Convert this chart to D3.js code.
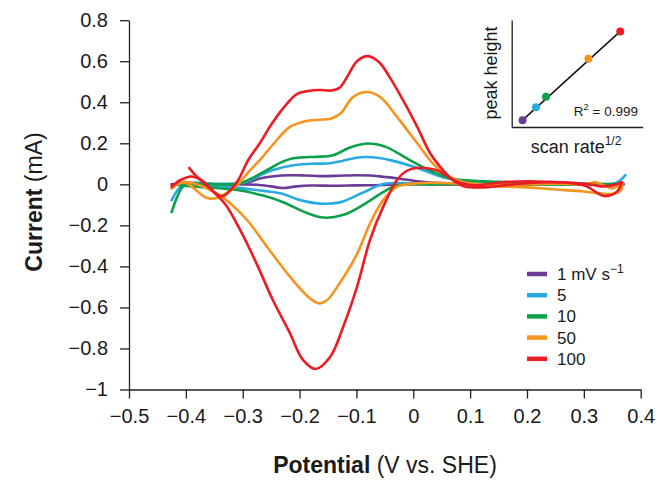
<!DOCTYPE html>
<html>
<head>
<meta charset="utf-8">
<script src="https://cdn.jsdelivr.net/npm/d3@7"></script>
<style>
  html, body { margin: 0; padding: 0; background: #fff; }
  svg { display: block; font-family: "Liberation Sans", Arial, Helvetica, sans-serif; }
</style>
</head>
<body>
<svg id="chart" width="663" height="480"></svg>
<script>
// ---------- DATA ----------
const xTicks = [-0.5, -0.4, -0.3, -0.2, -0.1, 0, 0.1, 0.2, 0.3, 0.4];
const xTickLabels = ["−0.5", "−0.4", "−0.3", "−0.2", "−0.1", "0", "0.1", "0.2", "0.3", "0.4"];
const yTicks = [-1, -0.8, -0.6, -0.4, -0.2, 0, 0.2, 0.4, 0.6, 0.8];
const yTickLabels = ["−1", "−0.8", "−0.6", "−0.4", "−0.2", "0", "0.2", "0.4", "0.6", "0.8"];

const scanRates = ["1", "5", "10", "50", "100"];
const seriesColors = ["#6a3c97", "#29aae1", "#0ba14b", "#f7941e", "#ec1c24"];

// [potential V, current mA] — anodic (forward) and cathodic (reverse) branches
const anodic1 = [[-0.425,0.0],[-0.35,0.0],[-0.3,0.004],[-0.287,0.013],[-0.27,0.028],[-0.245,0.039],[-0.217,0.044],[-0.19,0.043],[-0.158,0.04],[-0.13,0.042],[-0.099,0.044],[-0.07,0.042],[-0.053,0.037],[-0.03,0.03],[0.007,0.015],[0.035,0.008],[0.1,0.002],[0.2,0.0],[0.3,0.0],[0.37,0.0]];
const cathodic1 = [[0.37,0.0],[0.2,0.0],[0.05,0.0],[-0.03,0.0],[-0.053,-0.003],[-0.1,-0.005],[-0.141,-0.007],[-0.18,-0.006],[-0.205,-0.01],[-0.229,-0.018],[-0.25,-0.01],[-0.275,-0.002],[-0.3,0.0],[-0.425,0.0]];

const anodic5 = [[-0.425,-0.077],[-0.415,-0.03],[-0.405,0.0],[-0.39,0.008],[-0.35,0.003],[-0.305,0.005],[-0.287,0.02],[-0.265,0.05],[-0.247,0.07],[-0.211,0.093],[-0.18,0.1],[-0.146,0.103],[-0.125,0.114],[-0.1,0.13],[-0.081,0.133],[-0.06,0.128],[-0.041,0.118],[0.007,0.08],[0.052,0.035],[0.1,0.01],[0.2,0.005],[0.3,0.003],[0.355,0.005],[0.365,0.022],[0.373,0.045]];
const cathodic5 = [[0.362,0.0],[0.3,0.0],[0.2,0.0],[0.1,0.003],[0.0,0.005],[-0.053,0.002],[-0.088,-0.04],[-0.129,-0.088],[-0.164,-0.094],[-0.199,-0.077],[-0.229,-0.047],[-0.264,-0.032],[-0.317,-0.015],[-0.36,-0.005],[-0.405,0.0]];

const anodic10 = [[-0.425,-0.135],[-0.415,-0.06],[-0.405,-0.01],[-0.39,0.003],[-0.35,0.0],[-0.32,0.0],[-0.305,0.005],[-0.28,0.035],[-0.257,0.07],[-0.23,0.11],[-0.211,0.127],[-0.19,0.132],[-0.17,0.134],[-0.141,0.142],[-0.111,0.18],[-0.085,0.198],[-0.065,0.195],[-0.046,0.18],[-0.006,0.118],[0.035,0.06],[0.065,0.03],[0.1,0.018],[0.15,0.012],[0.25,0.005],[0.3,0.003],[0.368,0.0]];
const cathodic10 = [[0.368,0.0],[0.3,0.0],[0.2,0.0],[0.1,0.002],[0.03,0.0],[-0.029,-0.005],[-0.053,-0.038],[-0.088,-0.1],[-0.124,-0.15],[-0.158,-0.162],[-0.187,-0.14],[-0.229,-0.087],[-0.264,-0.055],[-0.31,-0.028],[-0.375,-0.013],[-0.41,-0.005]];

const anodic50 = [[-0.425,-0.02],[-0.405,0.01],[-0.39,-0.01],[-0.375,-0.045],[-0.362,-0.068],[-0.345,-0.065],[-0.33,-0.045],[-0.31,-0.005],[-0.29,0.06],[-0.27,0.118],[-0.245,0.2],[-0.217,0.28],[-0.19,0.308],[-0.165,0.315],[-0.145,0.32],[-0.128,0.345],[-0.106,0.425],[-0.081,0.45],[-0.058,0.425],[-0.029,0.33],[0.007,0.2],[0.035,0.1],[0.065,0.035],[0.09,0.01],[0.12,0.0],[0.2,0.0],[0.26,0.003],[0.3,0.0],[0.32,0.01],[0.335,-0.005],[0.35,-0.02],[0.362,-0.005],[0.368,0.005]];
const cathodic50 = [[0.368,0.005],[0.365,-0.03],[0.355,-0.045],[0.33,-0.045],[0.3,-0.035],[0.25,-0.025],[0.2,-0.015],[0.15,-0.01],[0.1,-0.005],[0.065,0.005],[0.007,0.005],[-0.029,-0.012],[-0.053,-0.077],[-0.076,-0.19],[-0.099,-0.34],[-0.129,-0.48],[-0.152,-0.565],[-0.165,-0.58],[-0.182,-0.555],[-0.217,-0.45],[-0.257,-0.305],[-0.292,-0.175],[-0.322,-0.092],[-0.345,-0.045],[-0.363,-0.02],[-0.387,0.005],[-0.405,0.01],[-0.42,-0.005]];

const anodic100 = [[-0.425,-0.012],[-0.41,0.02],[-0.39,0.038],[-0.375,0.025],[-0.36,-0.01],[-0.345,-0.05],[-0.335,-0.058],[-0.322,-0.03],[-0.308,0.02],[-0.29,0.12],[-0.27,0.2],[-0.25,0.29],[-0.229,0.37],[-0.205,0.44],[-0.185,0.455],[-0.165,0.46],[-0.145,0.457],[-0.13,0.47],[-0.115,0.53],[-0.099,0.6],[-0.08,0.625],[-0.06,0.595],[-0.041,0.52],[-0.018,0.41],[0.007,0.28],[0.03,0.15],[0.052,0.07],[0.07,0.02],[0.09,-0.01],[0.12,-0.015],[0.16,-0.005],[0.2,0.005],[0.25,0.01],[0.29,0.005],[0.31,0.0],[0.33,-0.01],[0.35,-0.005],[0.367,0.01]];
const cathodic100 = [[0.367,0.01],[0.36,-0.03],[0.35,-0.05],[0.335,-0.057],[0.32,-0.035],[0.305,-0.01],[0.28,0.005],[0.24,0.012],[0.2,0.015],[0.15,0.008],[0.11,-0.005],[0.085,0.005],[0.065,0.03],[0.045,0.065],[0.025,0.078],[0.005,0.08],[-0.012,0.065],[-0.029,0.02],[-0.053,-0.11],[-0.076,-0.27],[-0.099,-0.5],[-0.124,-0.7],[-0.146,-0.84],[-0.172,-0.9],[-0.194,-0.856],[-0.217,-0.725],[-0.247,-0.564],[-0.275,-0.39],[-0.305,-0.22],[-0.33,-0.1],[-0.35,-0.04],[-0.37,0.01],[-0.385,0.05],[-0.394,0.08]];

// inset: sqrt(scan rate) vs anodic peak height (mA)
const insetSqrtRate = [1, 2.236, 3.162, 7.071, 10];
const insetPeak = [0.045, 0.13, 0.2, 0.45, 0.63];
const rSquaredLabel = "0.999";

// ---------- CHART ----------
const svg = d3.select("#chart");
const axisColor = "#231f20";

const x = d3.scaleLinear().domain([-0.5, 0.4]).range([129, 640.7]);
const y = d3.scaleLinear().domain([-1, 0.8]).range([389.5, 20.2]);

const xAxis = d3.axisBottom(x).tickValues(xTicks)
  .tickFormat((d, i) => xTickLabels[i]).tickSize(9).tickSizeOuter(0).tickPadding(10);
const yAxis = d3.axisLeft(y).tickValues(yTicks)
  .tickFormat((d, i) => yTickLabels[i]).tickSize(9).tickSizeOuter(0).tickPadding(12);

const gx = svg.append("g").attr("transform", `translate(0,${y(-1)})`).call(xAxis);
const gy = svg.append("g").attr("transform", `translate(${x(-0.5)},0)`).call(yAxis);
[gx, gy].forEach(g => {
  g.selectAll("path, line").attr("stroke", axisColor).attr("stroke-width", 1.3);
  g.selectAll("text").attr("fill", "#1a1a1a").style("font-size", "20px")
    .style("font-family", '"Liberation Sans", Arial, sans-serif');
});

// Series
const series = [
  [anodic1, cathodic1], [anodic5, cathodic5], [anodic10, cathodic10],
  [anodic50, cathodic50], [anodic100, cathodic100]
];
const line = d3.line().x(d => x(d[0])).y(d => y(d[1])).curve(d3.curveCatmullRom.alpha(0.5));
const plot = svg.append("g");
series.forEach((branches, i) => {
  branches.forEach(b => {
    plot.append("path").datum(b).attr("d", line)
      .attr("fill", "none").attr("stroke", seriesColors[i])
      .attr("stroke-width", 2.6).attr("stroke-linejoin", "round").attr("stroke-linecap", "round");
  });
});

// Axis titles
const xt = svg.append("text").attr("x", 385).attr("y", 473).attr("text-anchor", "middle")
  .style("font-size", "23px").attr("fill", "#1a1a1a");
xt.append("tspan").attr("font-weight", "bold").text("Potential");
xt.append("tspan").text(" (V vs. SHE)");

const yt = svg.append("text").attr("transform", "translate(42,202) rotate(-90)")
  .attr("text-anchor", "middle").style("font-size", "23px").attr("fill", "#1a1a1a");
yt.append("tspan").attr("font-weight", "bold").text("Current");
yt.append("tspan").text(" (mA)");

// Legend
const legend = svg.append("g");
const legY = d3.scaleLinear().domain([0, 4]).range([274, 358.8]);
scanRates.forEach((r, i) => {
  const yy = legY(i);
  legend.append("line").attr("x1", 527).attr("x2", 547).attr("y1", yy).attr("y2", yy)
    .attr("stroke", seriesColors[i]).attr("stroke-width", 4.5);
  const t = legend.append("text").attr("x", 557).attr("y", yy + 6)
    .style("font-size", "17px").attr("fill", "#1a1a1a");
  if (i === 0) {
    t.append("tspan").text(r + " mV s");
    t.append("tspan").attr("dy", -7).style("font-size", "12px").text("−1");
  } else {
    t.text(r);
  }
});

// Inset
const ix = d3.scaleLinear().domain([0, 12.07]).range([511.7, 642.7]);
const iy = d3.scaleLinear().domain([0, 0.705]).range([127, 20]);
const inset = svg.append("g");
inset.append("g").attr("transform", `translate(0,${iy(0)})`)
  .call(d3.axisBottom(ix).tickValues([]).tickSizeOuter(0))
  .selectAll("path").attr("stroke", axisColor).attr("stroke-width", 1.3);
inset.append("g").attr("transform", `translate(${ix(0)},0)`)
  .call(d3.axisLeft(iy).tickValues([]).tickSizeOuter(0))
  .selectAll("path").attr("stroke", axisColor).attr("stroke-width", 1.3);

const insetPts = insetSqrtRate.map((v, i) => [v, insetPeak[i]]);
inset.append("path").datum([insetPts[0], insetPts[insetPts.length - 1]])
  .attr("d", d3.line().x(d => ix(d[0])).y(d => iy(d[1])))
  .attr("stroke", "#111").attr("stroke-width", 1.5).attr("fill", "none");
inset.selectAll("circle").data(insetPts).join("circle")
  .attr("cx", d => ix(d[0])).attr("cy", d => iy(d[1])).attr("r", 4)
  .attr("fill", (d, i) => seriesColors[i]);

inset.append("text").attr("transform", "translate(497,73) rotate(-90)")
  .attr("text-anchor", "middle").style("font-size", "18px").attr("fill", "#1a1a1a")
  .text("peak height");
const st = inset.append("text").attr("x", 576).attr("y", 153).attr("text-anchor", "middle")
  .style("font-size", "18px").attr("fill", "#1a1a1a");
st.append("tspan").text("scan rate");
st.append("tspan").attr("dy", -8).style("font-size", "12px").text("1/2");

const rt = inset.append("text").attr("x", 638).attr("y", 116).attr("text-anchor", "end")
  .style("font-size", "13.5px").attr("fill", "#1a1a1a");
rt.append("tspan").text("R");
rt.append("tspan").attr("dy", -6).style("font-size", "9.5px").text("2");
rt.append("tspan").attr("dy", 6).text(" = " + rSquaredLabel);
</script>
</body>
</html>
